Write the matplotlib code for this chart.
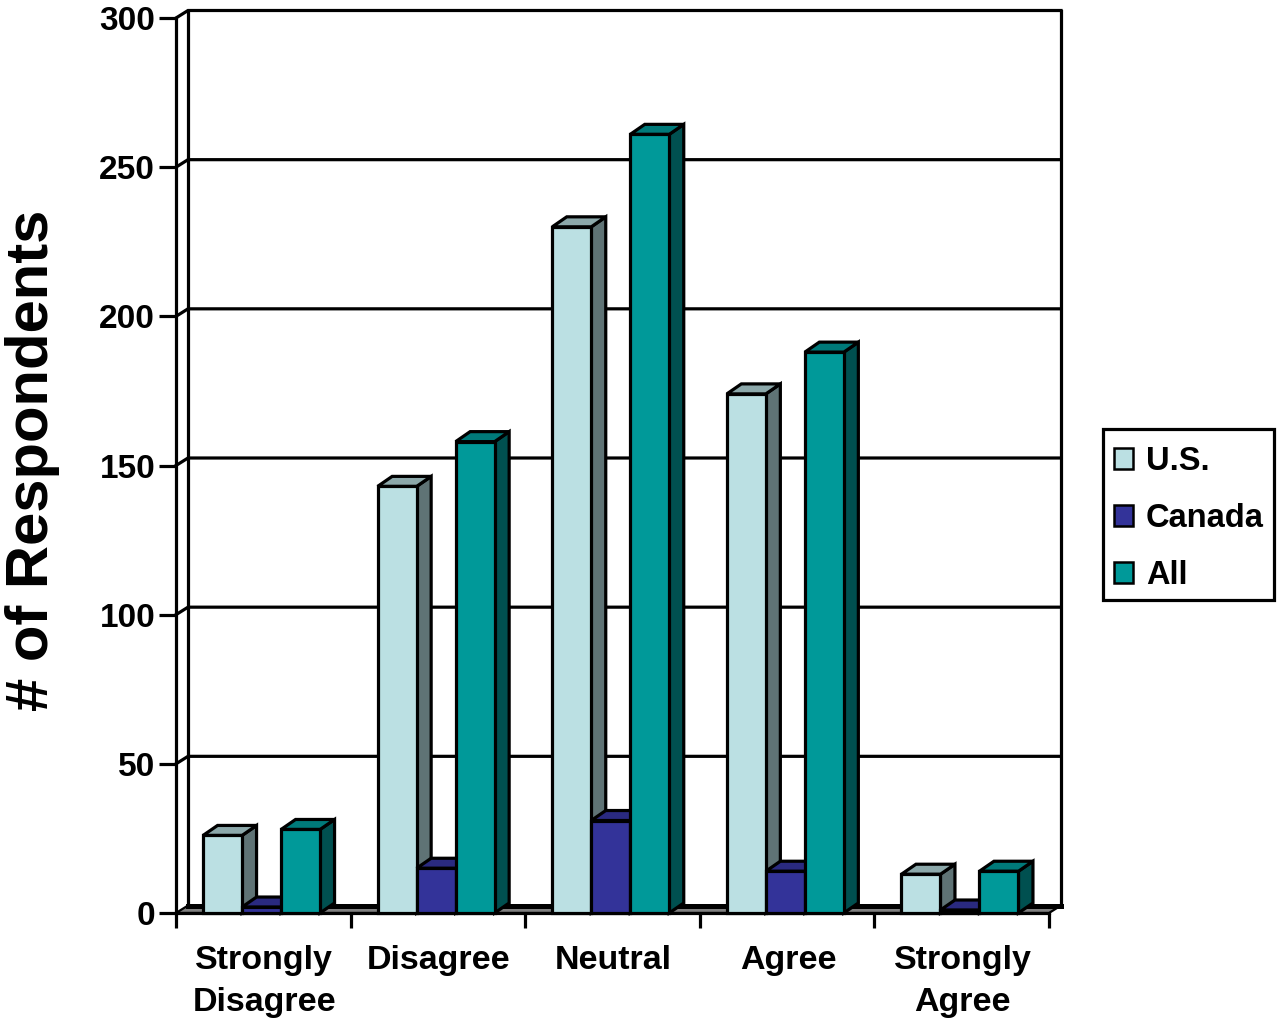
"""
Survey responses by agreement level, drawn as a 3D-look clustered bar chart.
"""

import numpy as np
import matplotlib
matplotlib.use("Agg")
import matplotlib.pyplot as plt
from matplotlib.patches import Patch, Polygon, Rectangle

plt.rcParams['font.family'] = ['Liberation Sans', 'DejaVu Sans']
plt.rcParams['font.weight'] = 'bold'

# ---------------------------------------------------------------------------
# Data
# ---------------------------------------------------------------------------
CATEGORIES = ["Strongly\nDisagree", "Disagree", "Neutral", "Agree", "Strongly\nAgree"]
SERIES = ["U.S.", "Canada", "All"]
US = [26, 143, 230, 174, 13]
CANADA = [2, 15, 31, 14, 1]
ALL = [28, 158, 261, 188, 14]
YTICKS = [0, 50, 100, 150, 200, 250, 300]

# ---------------------------------------------------------------------------
# Palette: (front, side, top)
# ---------------------------------------------------------------------------
SHADES = [
    ("#BBE0E3", "#5F7375", "#8CA8AA"),
    ("#333399", "#1F1F5C", "#2A2A80"),
    ("#009999", "#005050", "#007A7A"),
]
FLOOR = "#808080"

W, H = 1277, 1022
fig = plt.figure(figsize=(W / 100, H / 100), dpi=100)
fig.patch.set_facecolor("white")
ax = fig.add_axes([176 / W, (H - 913) / H, 873 / W, 895 / H])
ax.set_xlim(0, 5)
ax.set_ylim(0, 300)

# depth of the extrusion, in data units (the bars stick out a bit more than the wall)
PX_X = 873 / 5
PX_Y = 895 / 300
DX = 12 / PX_X
DY = 7.5 / PX_Y
BAR_DX = 14.5 / PX_X
BAR_DY = 10 / PX_Y
BAR_W = 39 / PX_X
LW = 2.3

# ------------------------------------------------------------------
# Back wall and floor
# ------------------------------------------------------------------
for y in YTICKS[1:]:
    ax.plot([0, DX, 5 + DX], [y, y + DY, y + DY], color="black", lw=LW,
            clip_on=False, zorder=1, solid_joinstyle="miter")
ax.plot([DX, DX], [DY, 300 + DY], color="black", lw=LW, clip_on=False, zorder=1)
ax.plot([5 + DX, 5 + DX], [DY, 300 + DY], color="black", lw=LW, clip_on=False, zorder=1)

ax.add_patch(Polygon([(0, 0), (5, 0), (5 + DX, DY), (DX, DY)], closed=True,
                     facecolor=FLOOR, edgecolor="black", lw=1.6,
                     clip_on=False, zorder=2))
ax.plot([DX, 5 + DX], [DY, DY], color="black", lw=3.6, clip_on=False, zorder=2)

# ------------------------------------------------------------------
# Bars, left to right so each one covers its neighbour's side face
# ------------------------------------------------------------------
centers = np.arange(len(CATEGORIES)) + 0.49
z = 3
for i, center in enumerate(centers):
    for j, values in enumerate([US, CANADA, ALL]):
        front, side, top = SHADES[j]
        left = center + (j - 1.5) * BAR_W
        right = left + BAR_W
        v = values[i]
        ax.add_patch(Polygon([(right, 0), (right + BAR_DX, BAR_DY),
                              (right + BAR_DX, v + BAR_DY), (right, v)],
                             closed=True, facecolor=side, edgecolor="black", lw=LW,
                             joinstyle="miter", clip_on=False, zorder=z))
        ax.add_patch(Polygon([(left, v), (right, v), (right + BAR_DX, v + BAR_DY),
                              (left + BAR_DX, v + BAR_DY)],
                             closed=True, facecolor=top, edgecolor="black", lw=LW,
                             joinstyle="miter", clip_on=False, zorder=z))
        ax.bar(left, v, width=BAR_W, align="edge", color=front, edgecolor="black",
               linewidth=LW, clip_on=False, zorder=z + 0.5)
        z += 1

# ------------------------------------------------------------------
# Axes, ticks, labels
# ------------------------------------------------------------------
for name in ["top", "right"]:
    ax.spines[name].set_visible(False)
for name in ["left", "bottom"]:
    ax.spines[name].set_linewidth(LW)
    ax.spines[name].set_zorder(2.5)

ax.set_yticks(YTICKS)
ax.set_yticklabels([str(t) for t in YTICKS], fontsize=24, fontweight="bold")
ax.tick_params(axis="y", length=12, width=LW, pad=3)

ax.set_xticks(np.arange(len(CATEGORIES) + 1))
ax.set_xticklabels([])
ax.set_xticks(centers + 0.015, CATEGORIES, minor=True)
ax.tick_params(axis="x", which="major", length=11, width=LW)
ax.tick_params(axis="x", which="minor", length=0, pad=23)
for lab in ax.get_xticklabels(minor=True):
    lab.set_fontsize(24.5)
    lab.set_fontweight("bold")
    lab.set_linespacing(1.45)
    lab.set_verticalalignment("top")

fig.text(33 / W, 1 - 460 / H, "# of Respondents", rotation=90, fontsize=43,
         fontweight="bold", ha="center", va="center")

# legend box is drawn separately so its padding can differ per direction
fig.add_artist(Rectangle((1103 / W, 1 - 600 / H), 171 / W, 171 / H,
                         transform=fig.transFigure, facecolor="white",
                         edgecolor="black", lw=LW, zorder=5))
handles = [Patch(facecolor=SHADES[k][0], edgecolor="black", lw=1.8, label=SERIES[k])
           for k in range(len(SERIES))]
leg = fig.legend(handles=handles, loc="upper left",
                 bbox_to_anchor=(1103 / W, 1 - 435 / H), borderaxespad=0,
                 fontsize=23.5, frameon=False, handlelength=0.6, handleheight=0.6,
                 handletextpad=0.38, borderpad=0.33, labelspacing=0.8)
leg.set_zorder(6)

fig.savefig("out.png", dpi=100, facecolor="white")
